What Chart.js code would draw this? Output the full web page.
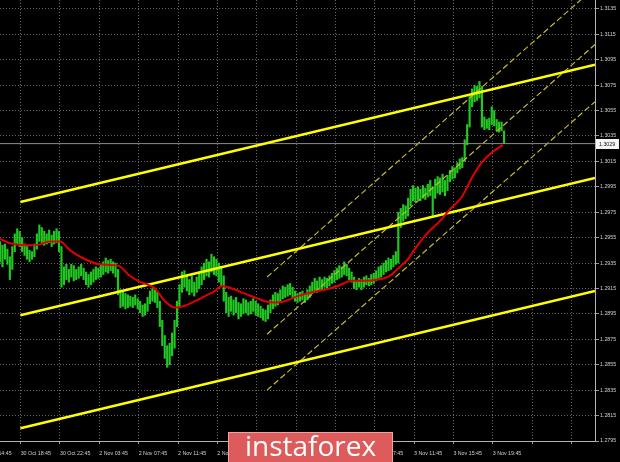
<!DOCTYPE html>
<html>
<head>
<meta charset="utf-8">
<script src="https://cdn.jsdelivr.net/npm/chart.js@4.4.0/dist/chart.umd.min.js"></script>
<style>
  html, body { margin: 0; padding: 0; background: #000; }
  #wrap { position: relative; width: 620px; height: 462px; overflow: hidden; }
  #logo {
    position: absolute; left: 228px; top: 432px; width: 163px; height: 29px;
    background: #de5b5b; border: 1px solid #f0a3a3; color: #fff;
    font-family: 'Open Sans', sans-serif; font-size: 28px; line-height: 24px; text-align: center;
  }
</style>
</head>
<body>
<div id="wrap">
  <canvas id="chart" width="620" height="462"></canvas>
  <div id="logo">instaforex</div>
</div>
<script>
// M15 bars, high / low
const candleHigh = [
  1.2952,1.2949,1.2950,1.2946,1.2940,1.2948,1.2958,1.2962,1.2960,1.2955,
  1.2950,1.2948,1.2945,1.2944,1.2950,1.2958,1.2965,1.2963,1.2960,1.2958,
  1.2961,1.2957,1.2960,1.2962,1.2960,1.2948,1.2932,1.2934,1.2930,1.2934,
  1.2933,1.2930,1.2932,1.2934,1.2931,1.2928,1.2926,1.2928,1.2930,1.2932,
  1.2931,1.2934,1.2936,1.2939,1.2937,1.2938,1.2936,1.2935,1.2930,1.2914,
  1.2913,1.2911,1.2910,1.2909,1.2908,1.2910,1.2907,1.2905,1.2902,1.2903,
  1.2908,1.2913,1.2915,1.2914,1.2912,1.2905,1.2890,1.2878,1.2870,1.2872,
  1.2880,1.2890,1.2905,1.2918,1.2928,1.2929,1.2926,1.2922,1.2925,1.2920,
  1.2924,1.2928,1.2932,1.2935,1.2938,1.2936,1.2942,1.2940,1.2938,1.2935,
  1.2932,1.2925,1.2912,1.2908,1.2909,1.2906,1.2908,1.2904,1.2903,1.2907,
  1.2906,1.2904,1.2905,1.2907,1.2905,1.2903,1.2901,1.2899,1.2898,1.2902,
  1.2906,1.2910,1.2912,1.2911,1.2914,1.2917,1.2916,1.2918,1.2919,1.2916,
  1.2913,1.2911,1.2912,1.2913,1.2911,1.2914,1.2917,1.2920,1.2923,1.2921,
  1.2924,1.2922,1.2924,1.2923,1.2925,1.2927,1.2929,1.2931,1.2933,1.2932,
  1.2936,1.2934,1.2931,1.2928,1.2924,1.2921,1.2923,1.2922,1.2924,1.2925,
  1.2923,1.2926,1.2927,1.2929,1.2932,1.2933,1.2935,1.2937,1.2939,1.2938,
  1.2941,1.2944,1.2975,1.2978,1.2981,1.2980,1.2986,1.2993,1.2996,1.2994,
  1.2995,1.2993,1.2996,1.2994,1.2997,1.3000,1.2995,1.3001,1.3003,1.3002,
  1.3005,1.3000,1.3004,1.3008,1.3011,1.3010,1.3014,1.3017,1.3018,1.3032,
  1.3044,1.3066,1.3072,1.3075,1.3074,1.3078,1.3074,1.3050,1.3048,1.3049,
  1.3058,1.3055,1.3048,1.3046,1.3046,1.3039
];
const candleLow = [
  1.2936,1.2932,1.2938,1.2934,1.2922,1.2930,1.2944,1.2950,1.2948,1.2944,
  1.2941,1.2938,1.2936,1.2938,1.2940,1.2946,1.2952,1.2950,1.2949,1.2950,
  1.2951,1.2948,1.2950,1.2951,1.2944,1.2916,1.2918,1.2922,1.2920,1.2924,
  1.2921,1.2922,1.2923,1.2925,1.2922,1.2918,1.2916,1.2918,1.2920,1.2922,
  1.2923,1.2924,1.2926,1.2928,1.2927,1.2929,1.2927,1.2924,1.2910,1.2900,
  1.2901,1.2899,1.2900,1.2901,1.2900,1.2902,1.2899,1.2896,1.2893,1.2894,
  1.2897,1.2903,1.2905,1.2904,1.2900,1.2885,1.2870,1.2860,1.2853,1.2855,
  1.2862,1.2868,1.2885,1.2900,1.2912,1.2916,1.2913,1.2910,1.2912,1.2909,
  1.2912,1.2915,1.2918,1.2922,1.2925,1.2924,1.2928,1.2926,1.2925,1.2920,
  1.2917,1.2905,1.2896,1.2893,1.2897,1.2894,1.2896,1.2891,1.2893,1.2895,
  1.2896,1.2894,1.2895,1.2897,1.2894,1.2893,1.2892,1.2890,1.2889,1.2891,
  1.2896,1.2899,1.2901,1.2902,1.2904,1.2907,1.2908,1.2909,1.2910,1.2907,
  1.2905,1.2904,1.2905,1.2906,1.2904,1.2906,1.2908,1.2911,1.2913,1.2912,
  1.2914,1.2914,1.2916,1.2915,1.2917,1.2919,1.2920,1.2922,1.2923,1.2924,
  1.2926,1.2925,1.2922,1.2920,1.2915,1.2914,1.2916,1.2914,1.2916,1.2918,
  1.2917,1.2918,1.2919,1.2921,1.2923,1.2924,1.2926,1.2928,1.2929,1.2930,
  1.2932,1.2934,1.2935,1.2963,1.2968,1.2970,1.2972,1.2980,1.2984,1.2983,
  1.2985,1.2984,1.2986,1.2985,1.2987,1.2988,1.2972,1.2986,1.2990,1.2989,
  1.2991,1.2988,1.2992,1.2999,1.3001,1.3002,1.3006,1.3009,1.3010,1.3015,
  1.3028,1.3042,1.3058,1.3062,1.3063,1.3065,1.3042,1.3040,1.3041,1.3040,
  1.3044,1.3043,1.3039,1.3038,1.3039,1.3029
];

// moving average (red), sampled at bar positions
const maBar = [0,5.3,14.2,20.3,24.4,28.5,34.6,40.7,48,52.8,
  56.1,63,67.1,71.1,74.4,79.3,83.3,87.4,90.2,94.3,
  99.6,104.9,107.7,111.8,115.9,121.1,126.8,132.1,137.4,143.1,
  148.4,153.7,158.5,162.6,165.9,168.7,174,178.9,182.9,187.8,
  191.9,195.9,200,204.5];
const maValue = [1.2954,1.2950,1.2949,1.2952,1.2952,1.2945,1.2938,1.2934,1.2933,1.2925,
  1.2921,1.2915,1.2905,1.2900,1.2901,1.2905,1.2909,1.2913,1.2917,1.2915,
  1.2911,1.2907,1.2905,1.2904,1.2905,1.2909,1.2912,1.2914,1.2917,1.2921,
  1.2921,1.2922,1.2925,1.2932,1.2938,1.2946,1.2959,1.2968,1.2977,1.2987,
  1.3002,1.3014,1.3022,1.3028];

// regression channel (solid yellow)
const channelBars = [8.3, 242];
const channelTop = [1.2983, 1.3091];
const channelMid = [1.2894, 1.3002];
const channelLow = [1.2805, 1.2913];

// steeper dashed channel
const fanBars = [108.6, 242];
const fanUpper = [1.2924, 1.3152];
const fanMiddle = [1.2879, 1.3107];
const fanLower = [1.2835, 1.3062];

const lastPrice = 1.3029;

const yTicks = [1.2795,1.2815,1.2835,1.2855,1.2875,1.2895,1.2915,1.2935,1.2955,
  1.2975,1.2995,1.3015,1.3035,1.3055,1.3075,1.3095,1.3115,1.3135];
const xTickLabels = ['30 Oct 14:45','30 Oct 18:45','30 Oct 22:45','2 Nov 03:45','2 Nov 07:45',
  '2 Nov 11:45','2 Nov 15:45','2 Nov 19:45','2 Nov 23:45','3 Nov 03:45','3 Nov 07:45',
  '3 Nov 11:45','3 Nov 15:45','3 Nov 19:45','',''];
const firstTickBar = -7.6;
const barsPerLabel = 16;

const pts = (xs, ys) => xs.map((x, i) => ({ x: x, y: ys[i] }));
const candles = candleHigh.map((h, i) => ({ x: i, y: [candleLow[i], h] }));

function lineSet(xs, ys, color, width, dash, order) {
  return { type: 'line', data: pts(xs, ys), borderColor: color, borderWidth: width,
    borderDash: dash || [], pointRadius: 0, order: order };
}

const font = { family: 'Liberation Sans', size: 5.3 };

// white price tag for the last price on the right axis
const priceTag = {
  id: 'priceTag',
  afterDraw(chart) {
    const { ctx, chartArea } = chart;
    const py = Math.round(chart.scales.y.getPixelForValue(lastPrice));
    ctx.save();
    ctx.fillStyle = '#f4f4f4';
    ctx.fillRect(chartArea.right + 1, py - 5, 23, 10);
    ctx.fillStyle = '#111';
    ctx.font = '5.3px "Liberation Sans"';
    ctx.textBaseline = 'middle';
    ctx.fillText(lastPrice.toFixed(4), chartArea.right + 4, py + 0.5);
    ctx.restore();
  }
};

new Chart(document.getElementById('chart'), {
  type: 'bar',
  data: {
    datasets: [
      { type: 'bar', data: candles, backgroundColor: '#22c822', barThickness: 1.5, order: 5 },
      lineSet(fanBars, fanUpper, '#c4ba30', 1.2, [6, 3], 4),
      lineSet(fanBars, fanMiddle, '#c4ba30', 1.2, [6, 3], 4),
      lineSet(fanBars, fanLower, '#c4ba30', 1.2, [6, 3], 4),
      lineSet([0, 242], [lastPrice, lastPrice], '#8c8c8c', 1, [], 3),
      lineSet(channelBars, channelTop, '#ffff00', 2.5, [], 2),
      lineSet(channelBars, channelMid, '#ffff00', 2.5, [], 2),
      lineSet(channelBars, channelLow, '#ffff00', 2.5, [], 2),
      { type: 'line', data: pts(maBar, maValue), borderColor: '#e00000', borderWidth: 2,
        pointRadius: 0, cubicInterpolationMode: 'monotone', order: 1 }
    ]
  },
  options: {
    responsive: false,
    animation: false,
    devicePixelRatio: 1,
    layout: { padding: 0, autoPadding: false },
    plugins: { legend: { display: false }, tooltip: { enabled: false } },
    scales: {
      x: {
        type: 'linear', min: 0, max: 242, offset: false,
        afterBuildTicks: axis => {
          axis.ticks = xTickLabels.map((l, k) => ({ value: firstTickBar + barsPerLabel * k }));
        },
        afterFit: axis => {
          axis.height = 21;
          axis.paddingLeft = 0;
          axis.paddingRight = 0;
        },
        grid: { color: '#666666', tickLength: 3, tickColor: '#9a9a9a', offset: false },
        border: { color: '#b4b4b4', dash: [1, 2] },
        ticks: {
          autoSkip: false, maxRotation: 0, align: 'start', padding: 6,
          color: '#d0d0d0', font: font,
          callback: (v, i) => xTickLabels[i]
        }
      },
      y: {
        type: 'linear', position: 'right', min: 1.2795, max: 1.3142,
        afterBuildTicks: axis => { axis.ticks = yTicks.map(v => ({ value: v })); },
        afterFit: axis => {
          axis.width = 25;
          axis.paddingTop = 0;
          axis.paddingBottom = 0;
        },
        grid: { color: '#666666', tickLength: 4, tickColor: '#9a9a9a' },
        border: { color: '#b4b4b4', dash: [1, 2] },
        ticks: { padding: 1, color: '#d0d0d0', font: font, callback: v => v.toFixed(4) }
      }
    }
  },
  plugins: [priceTag]
});
</script>
</body>
</html>
